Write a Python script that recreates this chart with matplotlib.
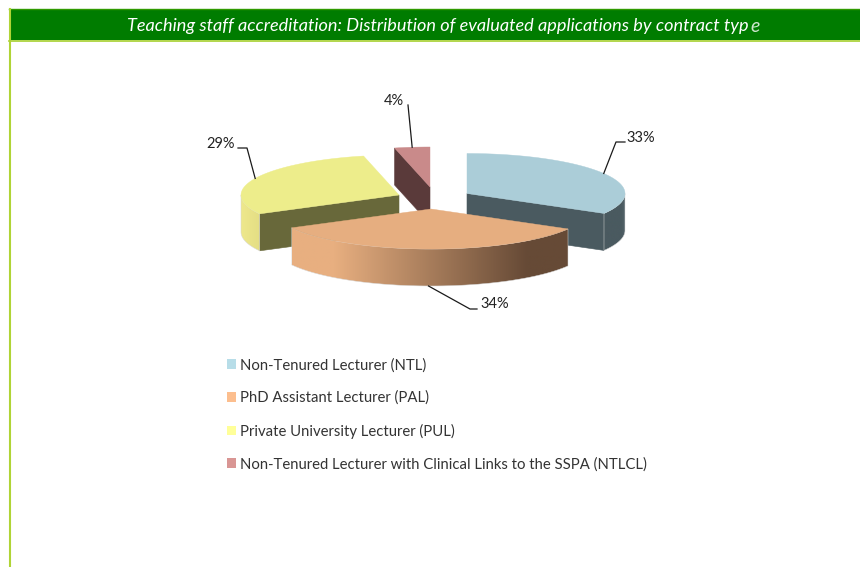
import numpy as np
import matplotlib
matplotlib.use('Agg')
import matplotlib.pyplot as plt
from matplotlib.patches import Patch, Polygon, Rectangle
from matplotlib.colors import LinearSegmentedColormap

# data
labels = ['Non-Tenured Lecturer (NTL)', 'PhD Assistant Lecturer (PAL)',
          'Private University Lecturer (PUL)',
          'Non-Tenured Lecturer with Clinical Links to the SSPA (NTLCL)']
values = [33.3, 33.9, 29.2, 3.6]
title = 'Teaching staff accreditation: Distribution of evaluated applications by contract typ'

# styles
legend_colors = ['#b7dde8', '#fcbe8e', '#ffff99', '#d99694']
top_colors = ['#abcdd8', '#e6ae80', '#eded8b', '#c98a8a']
cut_colors = ['#4a5a60', '#664a36', '#68683a', '#5a3a3a']
rim_colors = [[(0, '#4a5a60'), (.8, '#4a5a60'), (1, '#56666c')],
              [(0, '#e8af80'), (.15, '#e8af80'), (.85, '#664a36'), (1, '#664a36')],
              [(0, '#eee88c'), (1, '#e4de84')],
              [(0, '#5a3a3a'), (1, '#5a3a3a')]]
apex = [(467, 193.5), (431, 209), (399, 195), (430, 187)]
rx, ry, depth = 158, 40, 37
draw_order = [3, 2, 0, 1]
# elbow, end of leader line and text position for each label
leaders = [((616, 142), (625, 142), (626, 138), 'left'),
           ((470, 309), (477, 309), (480, 304), 'left'),
           ((247, 148), (238, 148), (235, 144), 'right'),
           ((408, 105), (408, 105), (394, 101), 'center')]

plt.rcParams['font.family'] = ['Lato', 'DejaVu Sans']

fig = plt.figure(figsize=(8.6, 5.67), dpi=100)
ax = fig.add_axes([0, 0, 1, 1])
ax.set_xlim(0, 860)
ax.set_ylim(567, 0)
ax.axis('off')

# header band and border
ax.add_patch(Rectangle((9, 9), 851, 31, fc='#007c00', ec='none'))
ax.plot([9, 860], [8.5, 8.5], color='#2f9a00', lw=1)
ax.plot([9, 860], [40.5, 40.5], color='#a6cf2e', lw=1.2)
ax.plot([9.5, 9.5], [9, 567], color='#b0d436', lw=1.5)
ax.text(127, 26, title, color='white', style='italic', fontsize=13.03, va='center', ha='left')
ax.text(750, 26.5, 'e', color='#cfe6cf', style='italic', fontsize=14, va='center', ha='left')


def point(cx, cy, deg):
    t = np.radians(deg)
    return cx + rx * np.sin(t), cy - ry * np.cos(t)


def arc(cx, cy, a, b):
    t = np.linspace(a, b, 60)
    x, y = point(cx, cy, t)
    return np.column_stack([x, y])


shares = np.array(values) / sum(values) * 360
ends = np.cumsum(shares)
starts = ends - shares

for n, i in enumerate(draw_order):
    z = 2 + n
    cx, cy = apex[i]
    a, b = starts[i], ends[i]
    # flat cut faces, only the ones turned to the viewer
    for deg, seen in ((a, a > 180), (b, b < 180)):
        if seen:
            px, py = point(cx, cy, deg)
            face = [(cx, cy), (px, py), (px, py + depth), (cx, cy + depth)]
            ax.add_patch(Polygon(face, fc=cut_colors[i], ec=cut_colors[i], lw=.4, zorder=z))
    # outer rim with its shading
    lo, hi = max(a, 90), min(b, 270)
    if lo < hi:
        upper = arc(cx, cy, lo, hi)
        lower = upper[::-1] + [0, depth]
        rim = np.vstack([upper, lower])
        cmap = LinearSegmentedColormap.from_list('rim%d' % i, rim_colors[i])
        x0, x1 = rim[:, 0].min(), rim[:, 0].max()
        y0, y1 = rim[:, 1].min(), rim[:, 1].max()
        im = ax.imshow(np.linspace(0, 1, 256).reshape(1, -1), cmap=cmap, aspect='auto',
                       extent=[x0, x1, y1, y0], zorder=z)
        clip = Polygon(rim, fc='none', ec='#d8d8d8', lw=.35, zorder=z)
        ax.add_patch(clip)
        im.set_clip_path(clip)
    # top face
    top = np.vstack([[(cx, cy)], arc(cx, cy, a, b)])
    ax.add_patch(Polygon(top, fc=top_colors[i], ec=top_colors[i], lw=.3, zorder=z))

# percent labels with leader lines
for i, (elbow, end, pos, ha) in enumerate(leaders):
    mid = (starts[i] + ends[i]) / 2
    cx, cy = apex[i]
    ax_, ay_ = point(cx, cy, mid)
    if 90 < mid < 270:
        ay_ += depth
    ax.plot([ax_, elbow[0], end[0]], [ay_, elbow[1], end[1]], color='#1a1a1a', lw=.9, zorder=8)
    ax.text(pos[0], pos[1], '%d%%' % round(values[i]), color='#222222', fontsize=10.5,
            ha=ha, va='center', zorder=8)

ax.set_xlim(0, 860)
ax.set_ylim(567, 0)

# legend
handles = [Patch(fc=c, ec='none') for c in legend_colors]
ax.legend(handles, labels, loc='upper left', bbox_to_anchor=(227 / 860, 1 - 358 / 567),
          frameon=False, fontsize=10.7, labelcolor='#333333', handlelength=.6, handleheight=.6,
          handletextpad=.27, labelspacing=1.24, borderpad=0, borderaxespad=0)

fig.savefig('out.png', dpi=100)
